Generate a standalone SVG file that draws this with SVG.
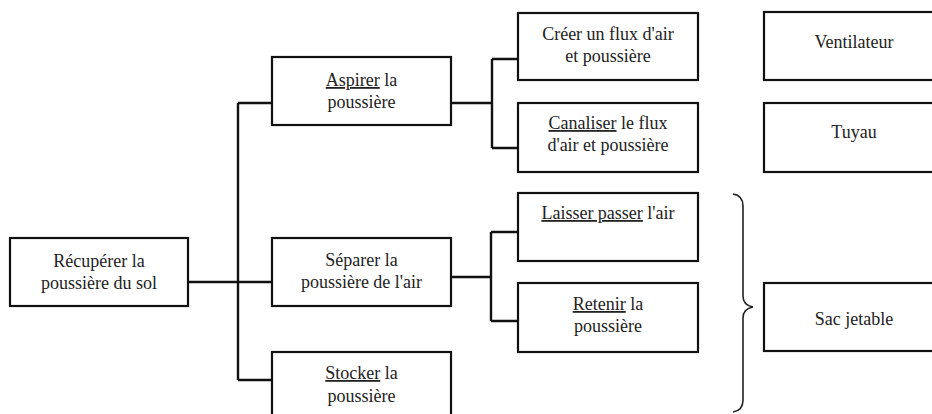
<svg xmlns="http://www.w3.org/2000/svg" width="932" height="414" viewBox="0 0 932 414">
<style>
.box{fill:#fff;stroke:#111;stroke-width:2.2}
.t{font-size:18px;fill:#222;text-anchor:middle}
.u{text-decoration:underline}
.c{fill:none;stroke:#111;stroke-width:2.4}
.brace{fill:none;stroke:#222;stroke-width:1.6}
</style>
<rect width="932" height="414" fill="#fff"/>
<g id="connectors">
<path class="c" d="M188,282H238M238,103V380M238,103H272M238,282H272M238,380H272"/>
<path class="c" d="M451,103H492M492,59V148M492,59H518M492,148H518"/>
<path class="c" d="M451,277H491M491,232V321M491,232H518M491,321H518"/>
<path class="brace" d="M733,194C740,195 743,199 743,206V296C743,302 747,306 753,307C747,308 743,312 743,318V400C743,407 740,411 733,412"/>
</g>
<g font-family="Liberation Serif, DejaVu Serif, serif">
<g id="recuperer">
<rect class="box" x="10" y="238" width="178" height="68"/>
<text class="t" x="99" y="267">Récupérer la</text>
<text class="t" x="99" y="289">poussière du sol</text>
</g>
<g id="aspirer">
<rect class="box" x="272" y="57" width="179" height="68"/>
<text class="t" x="361.5" y="86"><tspan class="u">Aspirer</tspan> la</text>
<text class="t" x="361.5" y="108">poussière</text>
</g>
<g id="separer">
<rect class="box" x="272" y="238" width="179" height="68"/>
<text class="t" x="361.5" y="266">Séparer la</text>
<text class="t" x="361.5" y="288">poussière de l'air</text>
</g>
<g id="stocker">
<rect class="box" x="272" y="352" width="179" height="80"/>
<text class="t" x="361.5" y="379"><tspan class="u">Stocker</tspan> la</text>
<text class="t" x="361.5" y="402">poussière</text>
</g>
<g id="creer">
<rect class="box" x="518" y="13" width="180" height="67"/>
<text class="t" x="608" y="40">Créer un flux d'air</text>
<text class="t" x="608" y="62">et poussière</text>
</g>
<g id="canaliser">
<rect class="box" x="518" y="103" width="180" height="69"/>
<text class="t" x="608" y="129"><tspan class="u">Canaliser</tspan> le flux</text>
<text class="t" x="608" y="151">d'air et poussière</text>
</g>
<g id="laisser">
<rect class="box" x="518" y="193" width="180" height="68"/>
<text class="t" x="608" y="219"><tspan class="u">Laisser passer</tspan> l'air</text>
</g>
<g id="retenir">
<rect class="box" x="518" y="283" width="180" height="69"/>
<text class="t" x="608" y="310"><tspan class="u">Retenir</tspan> la</text>
<text class="t" x="608" y="332">poussière</text>
</g>
<g id="ventilateur">
<rect class="box" x="764" y="12" width="190" height="68"/>
<text class="t" x="854" y="48">Ventilateur</text>
</g>
<g id="tuyau">
<rect class="box" x="764" y="103" width="190" height="69"/>
<text class="t" x="854" y="138">Tuyau</text>
</g>
<g id="sac">
<rect class="box" x="764" y="283" width="190" height="68"/>
<text class="t" x="854" y="325">Sac jetable</text>
</g>
</g>
</svg>
